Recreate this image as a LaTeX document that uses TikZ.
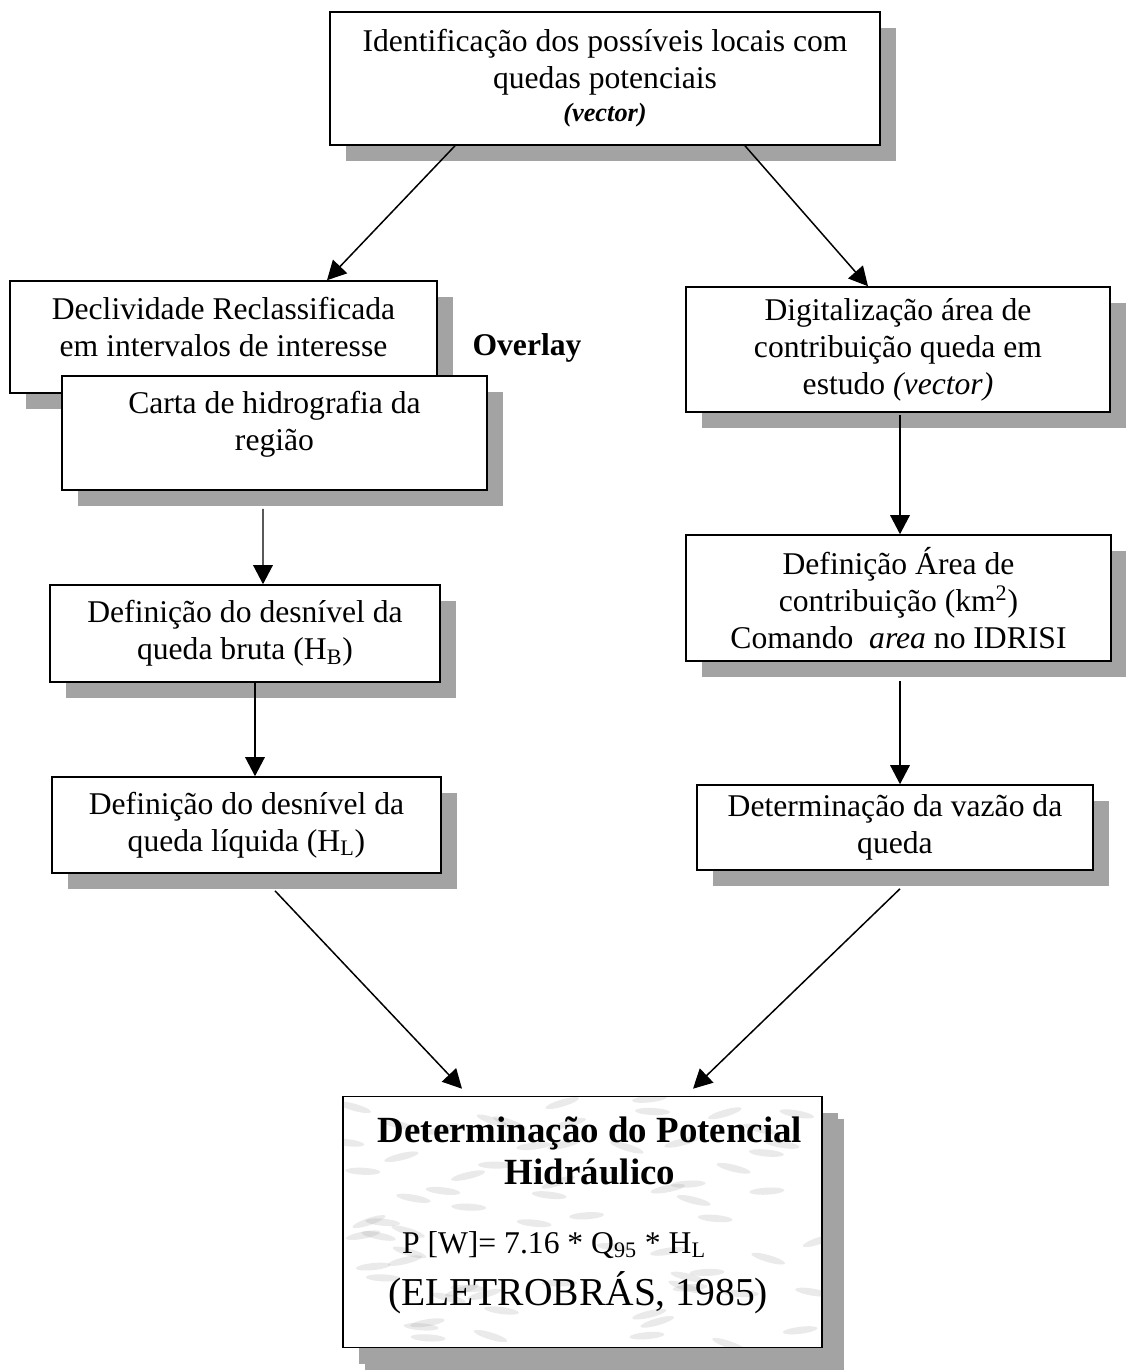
\documentclass[tikz,border=0pt]{standalone}
\usepackage{fontspec}
\setmainfont{Liberation Serif}
\usetikzlibrary{arrows.meta,shadows}
\begin{document}
\begin{tikzpicture}[
    box/.style={draw, line width=0.9pt, fill=white, align=center, inner sep=2pt,
      font=\fontsize{18}{21}\selectfont,
      drop shadow={shadow xshift=0.32cm, shadow yshift=-0.32cm, fill=black!36, opacity=1}},
    arrow/.style={-{Triangle[length=3.8mm,width=3.9mm]}, line width=0.85pt}
  ]
    \useasboundingbox (0,0) rectangle (22.52,-27.44);
    \node[box, minimum width=11cm, minimum height=2.66cm] (ident) at (12.1,-1.57)
      {Identificação dos possíveis locais com\\ quedas potenciais\\[-2pt]
       {\fontsize{15}{17}\selectfont\bfseries\itshape (vector)}};
    \node[box, minimum width=8.54cm, minimum height=2.24cm, text depth=0.4cm] (decl) at (4.47,-6.74)
      {Declividade Reclassificada\\ em intervalos de interesse};
    \node[box, minimum width=8.5cm, minimum height=2.28cm, text depth=0.48cm] (carta) at (5.49,-8.66)
      {Carta de hidrografia da\\ região};
    \node[font=\fontsize{18}{21}\selectfont\bfseries] (overlay) at (10.54,-6.96) {Overlay};
    \node[box, minimum width=8.48cm, minimum height=2.5cm] (digit) at (17.96,-6.99)
      {Digitalização área de\\ contribuição queda em\\ estudo \textit{(vector)}};
    \node[box, minimum width=7.8cm, minimum height=1.94cm] (hb) at (4.9,-12.67)
      {Definição do desnível da\\ queda bruta (H\textsubscript{B})};
    \node[box, minimum width=7.78cm, minimum height=1.92cm] (hl) at (4.93,-16.5)
      {Definição do desnível da\\ queda líquida (H\textsubscript{L})};
    \node[box, minimum width=8.5cm, minimum height=2.52cm] (area) at (17.97,-11.96)
      {Definição Área de\\ contribuição (km\textsuperscript{2})\\ Comando\ \ \textit{area} no IDRISI};
    \node[box, minimum width=7.92cm, minimum height=1.7cm] (vazao) at (17.9,-16.55)
      {Determinação da vazão da\\ queda};
    % caixa final, fundo marmorizado
    \node[box, minimum width=9.58cm, minimum height=5.02cm,
      drop shadow={shadow xshift=0.44cm, shadow yshift=-0.44cm, fill=black!36, opacity=1}] (fin) at (11.65,-24.44) {};
    \begin{scope}
      \clip ([shift={(0.03,-0.03)}]fin.north west) rectangle ([shift={(-0.03,0.03)}]fin.south east);
      \pgfmathsetseed{7}
      \foreach \k in {1,...,70}{
        \pgfmathsetmacro{\mx}{6.9+9.5*rnd}
        \pgfmathsetmacro{\my}{-21.9-5*rnd}
        \pgfmathsetmacro{\mr}{40*rnd-20}
        \fill[black!45, opacity=0.18, rotate around={\mr:(\mx,\my)}] (\mx,\my) ellipse (0.35 and 0.07);
      }
    \end{scope}
    \node[font=\fontsize{21}{24}\selectfont\bfseries, align=center] (fintitle) at ([xshift=0.15cm,yshift=1.42cm]fin.center)
      {Determinação do Potencial\\ Hidráulico};
    \node[font=\fontsize{18}{21}\selectfont] (finform) at ([xshift=-0.57cm,yshift=-0.46cm]fin.center)
      {P [W]= 7.16 * Q\textsubscript{95} * H\textsubscript{L}};
    \node[font=\fontsize{22.5}{26}\selectfont] (finref) at ([xshift=-0.09cm,yshift=-1.42cm]fin.center)
      {(ELETROBRÁS, 1985)};
    \draw[arrow] ([xshift=-3cm]ident.south) -- ([xshift=2.07cm]decl.north);
    \draw[arrow] ([xshift=2.8cm]ident.south) -- ([xshift=-0.6cm]digit.north);
    \draw[arrow] ([xshift=-0.23cm,yshift=-0.36cm]carta.south) -- ([xshift=0.36cm]hb.north);
    \draw[arrow] ([xshift=0.2cm]hb.south) -- ([xshift=0.17cm]hl.north);
    \draw[arrow] ([xshift=0.04cm,yshift=-0.04cm]digit.south) -- ([xshift=0.03cm]area.north);
    \draw[arrow] ([xshift=0.03cm,yshift=-0.38cm]area.south) -- ([xshift=0.1cm]vazao.north);
    \draw[arrow] ([xshift=0.57cm,yshift=-0.34cm]hl.south) -- ([xshift=-2.41cm,yshift=0.14cm]fin.north);
    \draw[arrow] ([xshift=0.1cm,yshift=-0.36cm]vazao.south) -- ([xshift=2.21cm,yshift=0.14cm]fin.north);
\end{tikzpicture}
\end{document}
